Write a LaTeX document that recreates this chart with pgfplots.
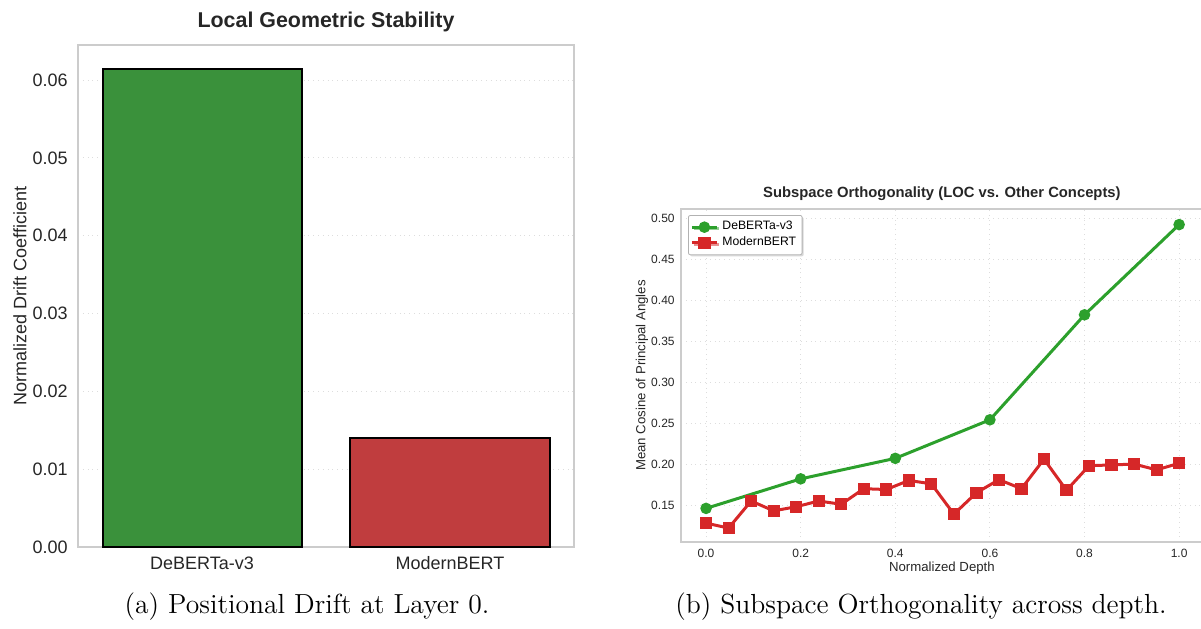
\documentclass[border=0pt]{standalone}
\usepackage{pgfplots}
\pgfplotsset{compat=1.18}
\usepackage{fontspec}
\setsansfont{Liberation Sans}
\usetikzlibrary{shadows}
\definecolor{bargreen}{HTML}{3A913B}
\definecolor{barred}{HTML}{C03D3E}
\definecolor{lgreen}{HTML}{2CA02C}
\definecolor{lred}{HTML}{D62728}
\definecolor{framegray}{HTML}{CCCCCC}
\definecolor{gridgray}{HTML}{DDDDDD}
\definecolor{txt}{HTML}{262626}
\begin{document}
\begin{tikzpicture}
\useasboundingbox (0,0) rectangle (600.5pt,-314pt);
% ---------- left: bar chart ----------
\begin{axis}[
  at={(39pt,-273.5pt)}, anchor=south west,
  scale only axis, width=248pt, height=251pt,
  xmin=-0.5, xmax=1.5, ymin=0, ymax=0.0645,
  xtick={0,1}, xticklabels={DeBERTa-v3,ModernBERT},
  ytick={0,0.01,0.02,0.03,0.04,0.05,0.06},
  scaled y ticks=false,
  yticklabel style={/pgf/number format/fixed,/pgf/number format/fixed zerofill,/pgf/number format/precision=2},
  /pgf/number format/assume math mode=true,
  font=\sffamily\fontsize{9}{11}\selectfont,
  every tick label/.append style={inner sep=0pt, text=txt},
  xticklabel style={anchor=center, yshift=-8pt},
  yticklabel style={anchor=east, xshift=-5pt},
  major tick length=0pt,
  axis line style={framegray, line width=0.8pt},
  ymajorgrids, grid style={gridgray, dotted, line width=0.5pt},
  title={\bfseries Local Geometric Stability},
  title style={at={(axis description cs:0.5,1)}, anchor=center, yshift=5.5pt, font=\sffamily\fontsize{10.7}{13}\selectfont, text=txt},
  ylabel={Normalized Drift Coefficient},
  ylabel style={at={(axis description cs:0,0.5)}, anchor=center, yshift=29pt, font=\sffamily\fontsize{9}{11}\selectfont, text=txt},
]
\addplot[ybar, bar width=99.5pt, fill=bargreen, draw=black, line width=1pt] coordinates {(0,0.0614)};
\addplot[ybar, bar width=99.5pt, fill=barred, draw=black, line width=1pt] coordinates {(1,0.0140)};
\end{axis}
% ---------- right: line chart ----------
\begin{axis}[
  at={(340.5pt,-271pt)}, anchor=south west,
  scale only axis, width=260.9pt, height=166.5pt,
  xmin=-0.053, xmax=1.05, ymin=0.105, ymax=0.511,
  xtick={0,0.2,0.4,0.6,0.8,1.0},
  ytick={0.15,0.20,0.25,0.30,0.35,0.40,0.45,0.50},
  xticklabel style={/pgf/number format/fixed,/pgf/number format/fixed zerofill,/pgf/number format/precision=1},
  yticklabel style={/pgf/number format/fixed,/pgf/number format/fixed zerofill,/pgf/number format/precision=2},
  /pgf/number format/assume math mode=true,
  font=\sffamily\fontsize{6}{7.5}\selectfont,
  every tick label/.append style={inner sep=0pt, text=txt},
  xticklabel style={anchor=center, yshift=-5.5pt},
  yticklabel style={anchor=east, xshift=-3pt},
  major tick length=0pt,
  axis line style={framegray, line width=0.8pt},
  xmajorgrids, ymajorgrids, grid style={gridgray, dotted, line width=0.5pt},
  title={\bfseries Subspace Orthogonality (LOC vs. Other Concepts)},
  title style={at={(axis description cs:0.5,1)}, anchor=center, yshift=1.5pt, font=\sffamily\fontsize{7.4}{9}\selectfont, text=txt},
  xlabel={Normalized Depth},
  xlabel style={at={(axis description cs:0.5,0)}, anchor=center, yshift=-13pt, font=\sffamily\fontsize{6.6}{8}\selectfont, text=txt},
  ylabel={Mean Cosine of Principal Angles},
  ylabel style={at={(axis description cs:0,0.5)}, anchor=center, yshift=19.5pt, font=\sffamily\fontsize{6.6}{8}\selectfont, text=txt},
  legend cell align=left,
  legend style={at={(axis description cs:0,1)}, anchor=north west, xshift=3.5pt, yshift=-3pt,
    font=\sffamily\fontsize{6.1}{7.5}\selectfont, draw=gray!60, fill=white, rounded corners=1pt,
    drop shadow={shadow xshift=0.8pt, shadow yshift=-0.8pt, fill=gray!60},
    row sep=-2pt, inner sep=1pt},
  legend image code/.code={\draw[mark repeat=2,mark phase=2,#1] plot coordinates {(0cm,0cm)(0.22cm,0cm)(0.44cm,0cm)};},
]
\addplot[lgreen, line width=1.5pt, mark=*, mark size=2.1pt, mark options={solid}] coordinates {
(0.0,0.146) (0.2,0.182) (0.4,0.207) (0.6,0.254) (0.8,0.382) (1.0,0.492)};
\addlegendentry{DeBERTa-v3}
\addplot[lred, line width=1.5pt, mark=square*, mark size=2.3pt, mark options={solid}] coordinates {
(0.00000,0.128) (0.04762,0.122) (0.09524,0.155) (0.14286,0.143) (0.19048,0.148) (0.23810,0.155)
(0.28571,0.151) (0.33333,0.170) (0.38095,0.169) (0.42857,0.180) (0.47619,0.176) (0.52381,0.139)
(0.57143,0.165) (0.61905,0.181) (0.66667,0.170) (0.71429,0.206) (0.76190,0.168) (0.80952,0.198)
(0.85714,0.199) (0.90476,0.200) (0.95238,0.193) (1.00000,0.201)};
\addlegendentry{ModernBERT}
\end{axis}
% captions
\node[anchor=center, font=\fontsize{13.8}{16}\selectfont] at (153.5pt,-303.5pt) {(a) Positional Drift at Layer 0.};
\node[anchor=center, font=\fontsize{13.8}{16}\selectfont] at (460.5pt,-303.5pt) {(b) Subspace Orthogonality across depth.};
\end{tikzpicture}
\end{document}
